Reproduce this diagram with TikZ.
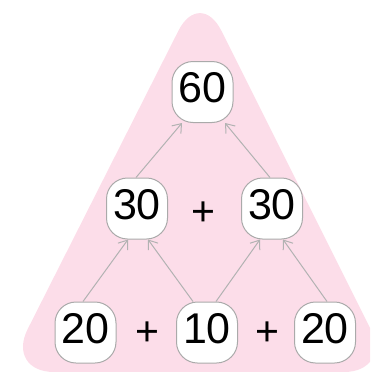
\documentclass[tikz,border=0pt]{standalone}
\usepackage{fontspec}
\setmainfont{Liberation Sans}
\usetikzlibrary{arrows.meta}
\definecolor{pinkbg}{RGB}{252,221,233}
\definecolor{boxline}{RGB}{170,170,170}
\definecolor{arrline}{RGB}{178,178,178}
\begin{document}
\begin{tikzpicture}[x=1pt,y=-1pt,
  numbox/.style={draw=boxline,line width=1pt,fill=white,rounded corners=21pt,
    minimum width=61pt,minimum height=61pt,inner sep=0pt,
    font=\fontsize{43}{43}\selectfont,text height=30.8pt,text depth=9pt},
  plussign/.style={font=\fontsize{41}{41}\selectfont,inner sep=0pt},
  conn/.style={draw=arrline,line width=1pt,-{Straight Barb[length=8pt,width=12pt]}}]
\useasboundingbox (0,0) rectangle (370,372);
\clip (0,0) rectangle (370,372);
\fill[pinkbg,rounded corners=48pt] (200,-12) -- (392,372) -- (6,372) -- cycle;
\node[numbox] (n60) at (202.5,92) {60};
\node[numbox] (a30) at (137,208.5) {30};
\node[numbox] (b30) at (272,208.5) {30};
\node[numbox] (c20) at (85.5,332.5) {20};
\node[numbox] (d10) at (207,332.5) {10};
\node[numbox] (e20) at (325,332.5) {20};
\node[plussign] (p1) at (203,214) {+};
\node[plussign] (p2) at (147,334) {+};
\node[plussign] (p3) at (267,334) {+};
\draw[conn] ([xshift=-2.5pt]c20.north) -- ([xshift=-9pt]a30.south);
\draw[conn] ([xshift=-14pt]d10.north) -- ([xshift=11pt]a30.south);
\draw[conn] ([xshift=9pt]d10.north) -- ([xshift=-12pt]b30.south);
\draw[conn] ([xshift=2pt]e20.north) -- ([xshift=11pt]b30.south);
\draw[conn] ([xshift=-1pt]a30.north) -- ([xshift=-20.5pt]n60.south);
\draw[conn] ([xshift=-2pt]b30.north) -- ([xshift=22.5pt]n60.south);
\end{tikzpicture}
\end{document}
